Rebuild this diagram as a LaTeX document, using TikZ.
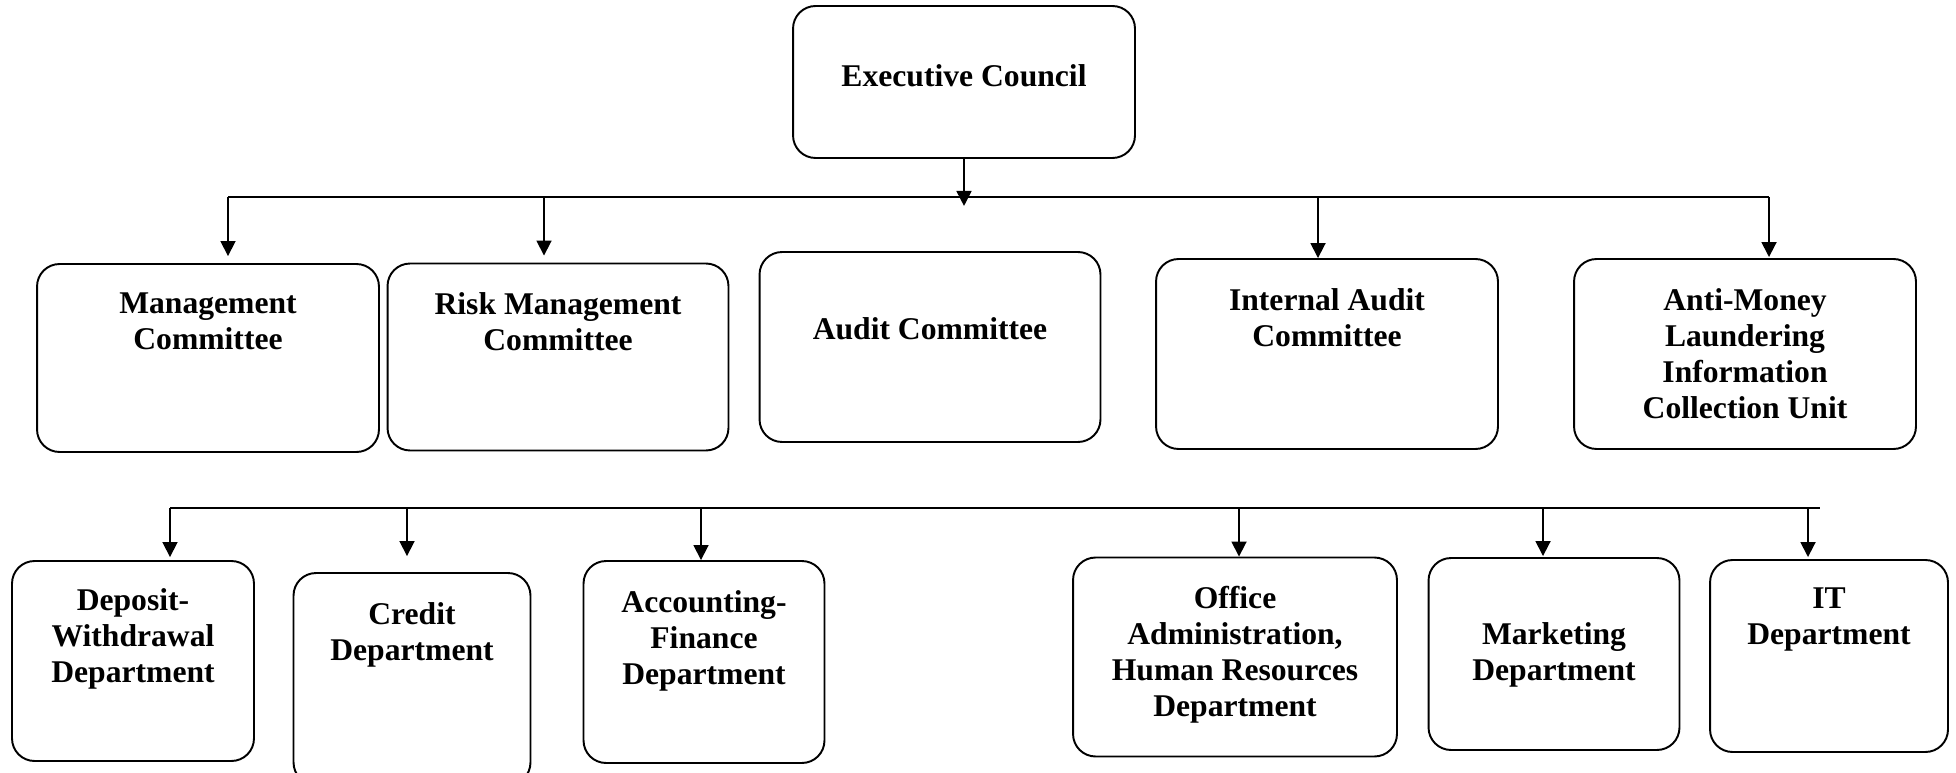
\documentclass[tikz,border=0pt]{standalone}
\usepackage{fontspec}
\setmainfont{Liberation Serif}
\usetikzlibrary{arrows.meta, positioning, calc}

\begin{document}
\begin{tikzpicture}[x=0.02cm, y=-0.02cm,
  unit/.style={draw, rounded corners=0.45cm, line width=1.1pt, inner sep=0pt},
  txt/.style={inner sep=0pt, align=center, font=\bfseries\fontsize{18}{20.5}\selectfont},
  arr/.style={-{Triangle[length=0.3cm, width=0.3cm]}, line width=1pt},
  bus/.style={line width=1.4pt}]
\useasboundingbox (0,0) rectangle (1956,773);

% executive council
\node[unit, minimum width=6.84cm, minimum height=3.04cm] (ec) at (964,82) {};
\node[txt, below=1.19cm of ec.north] (ecT) {Executive Council};

% committees
\node[unit, minimum width=6.84cm, minimum height=3.76cm] (mgmt) at (208,358) {};
\node[txt, below=0.59cm of mgmt.north] (mgmtT) {Management\\Committee};
\node[unit, minimum width=6.82cm, minimum height=3.74cm] (risk) at (558,357) {};
\node[txt, below=0.59cm of risk.north] (riskT) {Risk Management\\Committee};
\node[unit, minimum width=6.82cm, minimum height=3.80cm] (audit) at (930,347) {};
\node[txt, below=1.33cm of audit.north] (auditT) {Audit Committee};
\node[unit, minimum width=6.84cm, minimum height=3.80cm] (intaudit) at (1327,354) {};
\node[txt, below=0.61cm of intaudit.north] (intauditT) {Internal Audit\\Committee};
\node[unit, minimum width=6.84cm, minimum height=3.80cm] (aml) at (1745,354) {};
\node[txt, below=0.61cm of aml.north] (amlT) {Anti-Money\\Laundering\\Information\\Collection Unit};

% departments
\node[unit, minimum width=4.84cm, minimum height=4.00cm] (deposit) at (133,661) {};
\node[txt, below=0.57cm of deposit.north] (depositT) {Deposit-\\Withdrawal\\Department};
\node[unit, minimum width=4.74cm, minimum height=4.24cm] (credit) at (412,679) {};
\node[txt, below=0.61cm of credit.north] (creditT) {Credit\\Department};
\node[unit, minimum width=4.82cm, minimum height=4.04cm] (acct) at (704,662) {};
\node[txt, below=0.61cm of acct.north] (acctT) {Accounting-\\Finance\\Department};
\node[unit, minimum width=6.48cm, minimum height=3.98cm] (office) at (1235,657) {};
\node[txt, below=0.59cm of office.north] (officeT) {Office\\Administration,\\Human Resources\\Department};
\node[unit, minimum width=5.02cm, minimum height=3.84cm] (mkt) at (1554,654) {};
\node[txt, below=1.31cm of mkt.north] (mktT) {Marketing\\Department};
\node[unit, minimum width=4.76cm, minimum height=3.84cm] (it) at (1829,656) {};
\node[txt, below=0.57cm of it.north] (itT) {IT\\Department};

% bus lines
\coordinate (topL) at (228,197);
\coordinate (topR) at (1769,197);
\coordinate (lowL) at (170,508);
\coordinate (lowR) at (1820,508);
\draw[bus] (topL) -- (topR);
\draw[bus] (lowL) -- (lowR);

% arrows
\draw[arr] (ec.south) -- ++(0,47);
\foreach \x/\n/\g in {228/mgmt/0.14cm, 544/risk/0.14cm, 1318/intaudit/0cm, 1769/aml/0.02cm}
  \draw[arr, shorten >=\g] (topL -| \x,0) -- (\x,0 |- \n.north);
\foreach \x/\n/\g in {170/deposit/0.06cm, 407/credit/0.32cm, 701/acct/0cm, 1239/office/0cm, 1543/mkt/0.02cm, 1808/it/0.04cm}
  \draw[arr, shorten >=\g] (lowL -| \x,0) -- (\x,0 |- \n.north);
\end{tikzpicture}
\end{document}
